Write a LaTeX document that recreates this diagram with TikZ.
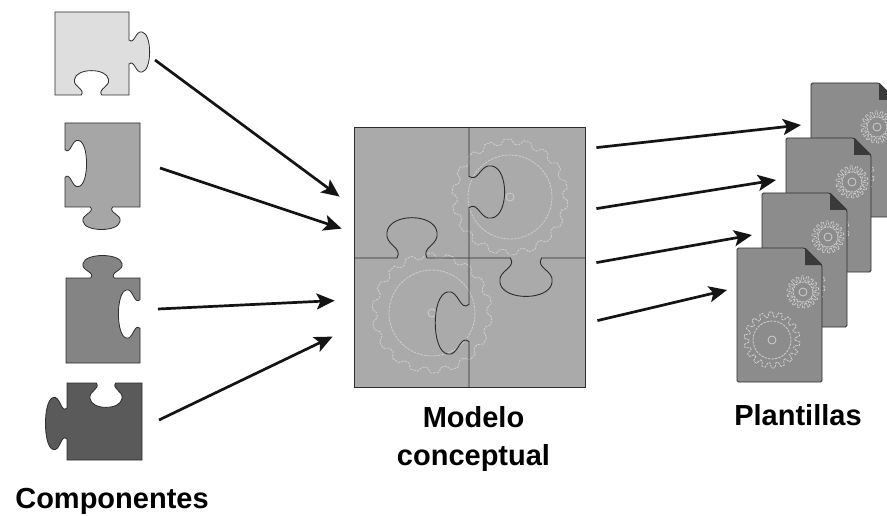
\documentclass[tikz,border=0pt]{standalone}
\usepackage{fontspec}
\setmainfont{Liberation Sans}
\usetikzlibrary{arrows.meta,positioning,calc}
\definecolor{pieceA}{RGB}{222,222,222}
\definecolor{pieceB}{RGB}{166,166,166}
\definecolor{pieceC}{RGB}{132,132,132}
\definecolor{pieceD}{RGB}{90,90,90}
\definecolor{board}{RGB}{170,170,170}
\definecolor{sheet}{RGB}{140,140,140}
\definecolor{fold}{RGB}{58,58,58}
\definecolor{cogline}{RGB}{206,206,206}
\definecolor{edge}{RGB}{45,45,45}

% jigsaw knob on a vertical edge: x, centre y, half width (signed), depth (signed)
\newcommand{\vknob}[4]{%
  -- ({#1},{#2-0.6*(#3)})
  .. controls ({#1+0.25*(#4)},{#2-0.35*(#3)}) and ({#1+0.3*(#4)},{#2-1.1*(#3)}) .. ({#1+0.6*(#4)},{#2-(#3)})
  .. controls ({#1+1.05*(#4)},{#2-0.9*(#3)}) and ({#1+1.05*(#4)},{#2+0.9*(#3)}) .. ({#1+0.6*(#4)},{#2+(#3)})
  .. controls ({#1+0.3*(#4)},{#2+1.1*(#3)}) and ({#1+0.25*(#4)},{#2+0.35*(#3)}) .. ({#1},{#2+0.6*(#3)})}
% same on a horizontal edge: y, centre x, half width (signed), depth (signed)
\newcommand{\hknob}[4]{%
  -- ({#2-0.6*(#3)},{#1})
  .. controls ({#2-0.35*(#3)},{#1+0.25*(#4)}) and ({#2-1.1*(#3)},{#1+0.3*(#4)}) .. ({#2-(#3)},{#1+0.6*(#4)})
  .. controls ({#2-0.9*(#3)},{#1+1.05*(#4)}) and ({#2+0.9*(#3)},{#1+1.05*(#4)}) .. ({#2+(#3)},{#1+0.6*(#4)})
  .. controls ({#2+1.1*(#3)},{#1+0.3*(#4)}) and ({#2+0.35*(#3)},{#1+0.25*(#4)}) .. ({#2+0.6*(#3)},{#1})}

\tikzset{
  piece/.style={draw=edge,line width=0.8pt},
  cut/.style={draw=edge,line width=0.9pt},
  flow/.style={line width=2.7pt,draw=black!92,
    -{Stealth[length=18pt,width=16pt,inset=4pt]}},
  caption/.style={font=\fontsize{29}{38}\selectfont\bfseries,inner sep=0pt},
  pics/cog/.style 2 args={code={
    \draw[cogline,line width=0.8pt,dash pattern=on 2.5pt off 1pt]
      (0:{#1-5}) \foreach \a in {0,20,...,340}{
        -- ({\a}:{#1-5}) -- ({\a+4}:{#1}) -- ({\a+11}:{#1}) -- ({\a+15}:{#1-5})} -- cycle;
    \draw[cogline,line width=0.8pt,dash pattern=on 2.5pt off 1pt] (0,0) circle (#2);
    \draw[cogline,line width=0.8pt] (0,0) circle (4);
  }},
  pics/sheet/.style={code={
    \filldraw[fill=sheet,draw=edge,line width=0.8pt,rounded corners=1.5pt]
      (0,0) -- (68,0) -- (85,17) -- (85,134) -- (0,134) -- cycle;
    \fill[fold] (68,0) -- (85,17) -- (68,17) -- cycle;
    \pic at (35,92) {cog={28}{19}};
    \pic at (66,44) {cog={16}{10}};
    \coordinate (-in) at (-10,42);
  }},
}

\begin{document}
\begin{tikzpicture}[x=1pt,y=-1pt]
  \useasboundingbox[fill=white] (0,0) rectangle (887,516);

  % components
  \filldraw[piece,fill=pieceA] (55,12) -- (129,12) \vknob{129}{52}{20}{22}
    -- (129,95) \hknob{95}{91.5}{-17}{-26} -- (55,95) -- cycle;
  \filldraw[piece,fill=pieceB] (65,123) -- (140,123) -- (140,207)
    \hknob{207}{101.5}{-18.5}{24} -- (65,207) \vknob{65}{163.5}{-23}{23} -- cycle;
  \filldraw[piece,fill=pieceC] (66,278) \hknob{278}{102.5}{19.5}{-24}
    -- (140,278) \vknob{140}{314}{24}{-23} -- (140,363) -- (66,363) -- cycle;
  \filldraw[piece,fill=pieceD] (67,383) \hknob{383}{106}{16}{26}
    -- (142,383) -- (142,460) -- (67,460) \vknob{67}{423.5}{-26}{-23} -- cycle;
  \coordinate (partA) at (155,60);
  \coordinate (partB) at (160,168);
  \coordinate (partC) at (158,309);
  \coordinate (partD) at (159,420);
  \node[caption,anchor=base] (comp) at (112,508) {Componentes};

  % conceptual model
  \node[draw=edge,fill=board,line width=0.8pt,inner sep=0pt,
    minimum width=231pt,minimum height=260pt] (model) at (469.5,257) {};
  \pic at (510,197) {cog={58}{42}};
  \pic at (432,313) {cog={60}{43}};
  \draw[cut] (469,127) \vknob{469}{192}{26}{38} \vknob{469}{323}{31}{-36} -- (469,387);
  \draw[cut] (354,258) \hknob{258}{412}{25}{-43} \hknob{258}{526}{26}{41} -- (585,258);
  \node[caption,below=19pt of model,xshift=4pt,align=center] (modlab)
    {Modelo\\conceptual};

  % templates
  \foreach \n/\x/\y in {1/811/83,2/786/138,3/762/193,4/737/248}
    \pic (doc\n) at (\x,\y) {sheet};
  \node[caption,anchor=base] (plant) at (798,425) {Plantillas};

  % arrows
  \draw[flow] (partA) -- ($(model.north west)+(-14,70)$);
  \draw[flow] (partB) -- ($(model.north west)+(-12,102)$);
  \draw[flow] (partC) -- ($(model.north west)+(-19,174)$);
  \draw[flow] (partD) -- ($(model.north west)+(-21,210)$);
  \draw[flow] ($(model.north east)+(11,21)$) -- (doc1-in);
  \draw[flow] ($(model.north east)+(11,82)$) -- (doc2-in);
  \draw[flow] ($(model.north east)+(11,136)$) -- (doc3-in);
  \draw[flow] ($(model.north east)+(12,194)$) -- (doc4-in);
\end{tikzpicture}
\end{document}
